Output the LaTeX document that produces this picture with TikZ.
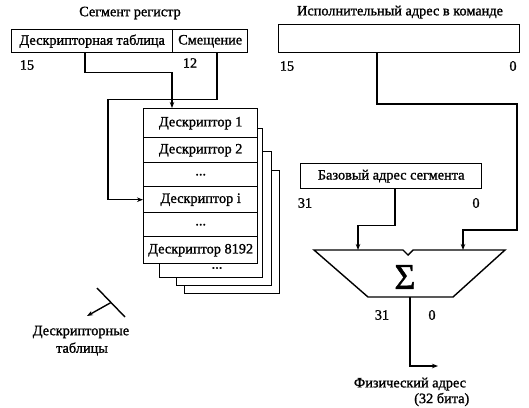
\documentclass[tikz,border=0pt]{standalone}
\usepackage{fontspec}
\setmainfont{Liberation Serif}[FakeBold=1.2]
\usetikzlibrary{arrows.meta,calc}
\begin{document}
\begin{tikzpicture}[x=1pt,y=-1pt,
  line width=1.4pt,
  every node/.style={font=\fontsize{14.3}{16}\selectfont, inner sep=0pt},
  cell/.style 2 args={draw, fill=white, minimum width=#1, minimum height=#2, anchor=north west},
  arr/.style={-{Stealth[length=6pt,width=4.5pt]}},
  wire/.style={line width=1.4pt}
]
\useasboundingbox (0,0) rectangle (529,407);

% ---- left: segment register
\node (t1) at (130,13) {Сегмент регистр};
\node[cell={161}{23}] (dt) at (11,29) {Дескрипторная таблица};
\node[cell={75}{23}] (off) at (172,29) {Смещение};
\node (n15a) at (27,65) {15};
\node (n12) at (190,63) {12};

% ---- descriptor stack
\node[cell={95}{123}] (b4) at (184,170) {};
\node[cell={95}{134}] (b3) at (176,151) {};
\node[cell={103}{149}] (b2) at (159,128) {};
\node (bdots) at (217,268) {...};
\node[cell={114}{29}] (d1) at (143,108) {Дескриптор 1};
\node[cell={114}{25}] (d2) at (143,137) {Дескриптор 2};
\node[cell={114}{24}] (e1) at (143,162) {...};
\node[cell={114}{26}] (di) at (143,186) {Дескриптор i};
\node[cell={114}{24}] (e2) at (143,212) {...};
\node[cell={114}{27}] (d8) at (143,236) {Дескриптор 8192};

\draw[wire,arr] ([xshift=74pt]dt.south west) -- ++(0,19) -| ([xshift=29pt]d1.north west);
\draw[wire,arr] ([xshift=45pt]off.south west) -- ++(0,46) -| ($(di.west)+(-35,0)$) -- (di.west);

% ---- label descriptor tables
\coordinate (tA) at (97,288);
\coordinate (tB) at (125,317);
\coordinate (tEnd) at (87,316);
\draw[wire] (tA) -- (tB);
\draw[wire,arr] ($(tA)!0.5!(tB)$) -- (tEnd);
\node (dtl1) at (81,332) {Дескрипторные};
\node (dtl2) at (82,349) {таблицы};

% ---- right: effective address
\node (t2) at (400,12) {Исполнительный адрес в команде};
\node[cell={241}{28}] (ea) at (278,24) {};
\node (n15b) at (287,66) {15};
\node (n0a) at (513,66) {0};

\node[cell={181}{25}] (base) at (300,163) {Базовый адрес сегмента};
\node (n31a) at (305,203) {31};
\node (n0b) at (476,203) {0};

% ---- adder
\coordinate (inL) at (358,250);
\coordinate (inR) at (463,250);
\coordinate (outT) at (410,297);
\draw[wire] (314,250) -- (403,250) -- (408,255) -- (413,250) -- (505,250) -- (453,297) -- (368,297) -- cycle;
\node (sig) at (405,277) {\fontsize{36}{36}\selectfont Σ};

\draw[wire,arr] ([xshift=99pt]ea.south west) |- (517,104) |- (463,230) -- (inR);
\draw[wire,arr] ([xshift=95pt]base.south west) -- ++(0,36) -| (inL);

\coordinate (outE) at (438,366);
\draw[wire,arr] (outT) |- (outE);
\node (n31b) at (382,315) {31};
\node (n0c) at (432,315) {0};
\node (pa1) at (410,384) {Физический адрес};
\node[anchor=east] (pa2) at (470,399.5) {(32 бита)};
\end{tikzpicture}
\end{document}
